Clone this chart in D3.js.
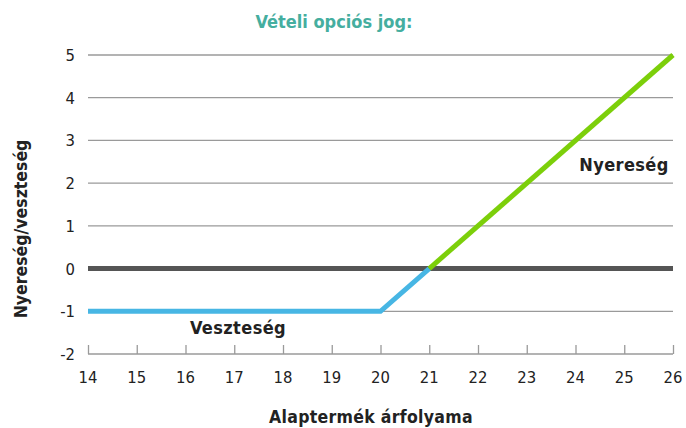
<!DOCTYPE html>
<html>
<head>
<meta charset="utf-8">
<script src="https://cdn.jsdelivr.net/npm/d3@7"></script>
<style>
	body { margin: 0; background: #fff; }
	text { font-family: "DejaVu Sans Condensed", "Liberation Sans Narrow", "Roboto", sans-serif; }
</style>
</head>
<body>
<div id="chart"></div>
<script>
'use strict'

// Adatok
var xTicks = [14, 15, 16, 17, 18, 19, 20, 21, 22, 23, 24, 25, 26];
var yTicks = [-2, -1, 0, 1, 2, 3, 4, 5];
var lossLine = [[14, -1], [20, -1], [21, 0]];
var gainLine = [[21, 0], [26, 5]];

var width = 686;
var height = 428;

var svg = d3.select("#chart")
	.append("svg")
	.attr("width", width)
	.attr("height", height);

var x = d3.scaleLinear().domain([14, 26]).range([88, 673]);
var y = d3.scaleLinear().domain([-2, 5]).range([354, 55]);

// Rácsvonalak
svg.append("g")
	.selectAll("line")
	.data(yTicks.filter(function(d){ return d != 0; }))
	.enter()
	.append("line")
		.attr("x1", x(14))
		.attr("x2", x(26))
		.attr("y1", function(d){ return y(d); })
		.attr("y2", function(d){ return y(d); })
		.style("stroke", "#9a9a9a")
		.style("stroke-width", "1.3px");

// X tengely (felfelé álló jelölők)
var xAxis = svg.append("g")
	.attr("transform", "translate(0," + y(-2) + ")")
	.call(d3.axisTop(x).tickValues(xTicks).tickSize(9).tickFormat(""));
xAxis.select(".domain").remove();
xAxis.selectAll("line").style("stroke", "#9a9a9a").style("stroke-width", "1.3px");

svg.append("g")
	.selectAll("text")
	.data(xTicks)
	.enter()
	.append("text")
		.attr("x", function(d){ return x(d); })
		.attr("y", 383)
		.attr("text-anchor", "middle")
		.style("font-size", "16.5px")
		.style("fill", "#222")
		.text(function(d){ return d; });

svg.append("g")
	.selectAll("text")
	.data(yTicks)
	.enter()
	.append("text")
		.attr("x", 75)
		.attr("y", function(d){ return y(d) + 6; })
		.attr("text-anchor", "end")
		.style("font-size", "16.5px")
		.style("fill", "#222")
		.text(function(d){ return d; });

// Nulla vonal
svg.append("line")
	.attr("x1", x(14))
	.attr("x2", x(26))
	.attr("y1", y(0))
	.attr("y2", y(0))
	.style("stroke", "#555")
	.style("stroke-width", "5px");

var line = d3.line()
	.x(function(d){ return x(d[0]); })
	.y(function(d){ return y(d[1]); });

svg.append("path")
	.datum(lossLine)
	.attr("d", line)
	.style("fill", "none")
	.style("stroke", "#47b6e4")
	.style("stroke-width", "5px");

svg.append("path")
	.datum(gainLine)
	.attr("d", line)
	.style("fill", "none")
	.style("stroke", "#7ccf0a")
	.style("stroke-width", "5px");

// Feliratok
svg.append("text")
	.attr("x", 334)
	.attr("y", 28)
	.attr("text-anchor", "middle")
	.style("font-size", "18px")
	.style("font-weight", "bold")
	.style("fill", "#45ae9f")
	.text("Vételi opciós jog:");

svg.append("text")
	.attr("x", 624)
	.attr("y", 171)
	.attr("text-anchor", "middle")
	.style("font-size", "18px")
	.style("font-weight", "bold")
	.style("letter-spacing", "0.4px")
	.style("fill", "#222")
	.text("Nyereség");

svg.append("text")
	.attr("x", 238)
	.attr("y", 334)
	.attr("text-anchor", "middle")
	.style("font-size", "18px")
	.style("font-weight", "bold")
	.style("letter-spacing", "0.4px")
	.style("fill", "#222")
	.text("Veszteség");

svg.append("text")
	.attr("x", 371)
	.attr("y", 423)
	.attr("text-anchor", "middle")
	.style("font-size", "17.5px")
	.style("font-weight", "bold")
	.style("letter-spacing", "0.3px")
	.style("fill", "#222")
	.text("Alaptermék árfolyama");

svg.append("text")
	.attr("transform", "translate(27,229) rotate(-90)")
	.attr("text-anchor", "middle")
	.style("font-size", "17.5px")
	.style("font-weight", "bold")
	.style("fill", "#222")
	.text("Nyereség/veszteség");
</script>
</body>
</html>
